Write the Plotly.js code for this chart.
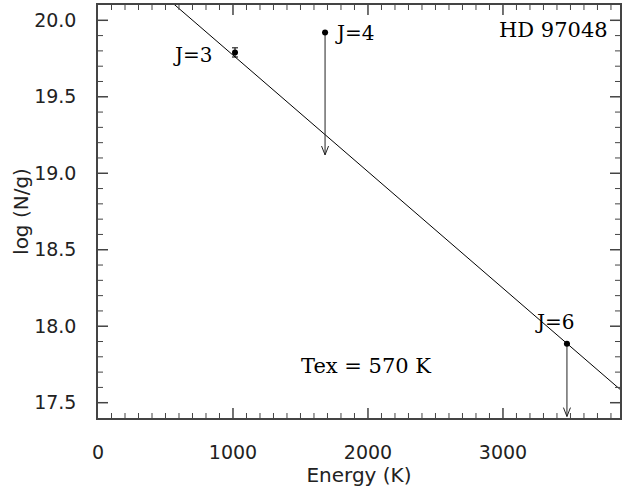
<!DOCTYPE html>
<html>
<head>
<meta charset="utf-8">
<script src="https://cdn.plot.ly/plotly-3.0.1.min.js"></script>
<style>html,body{margin:0;padding:0;background:#fff;}#chart{width:622px;height:487px;}</style>
</head>
<body>
<div id="chart"></div>
<script>
// ---- data ----
const levels = ['J=3', 'J=4', 'J=6'];
const energyK = [1015, 1682, 3474];
const logNg = [19.79, 19.92, 17.885];
const errLogNg = [0.03, 0, 0];
const isUpperLimit = [false, true, true];
const limitArrowTip = [null, 19.12, 17.41];
const texK = 570;
const fitIntercept = 20.534;
const starName = 'HD 97048';

// ---- layout constants ----
const xRange = [0, 3867];
const yRange = [17.40, 20.10];
const xMajorStep = 1000, xMinorStep = 100;
const yMajorStep = 0.5, yMinorStep = 0.1;
const headDx = 26, headDy = 0.058;
const serif = 'DejaVu Serif, Liberation Serif, serif';
const sans = 'DejaVu Sans, Liberation Sans, sans-serif';
const W = 622, H = 487, M = {l: 98, r: 2, t: 5, b: 69};
const plotW = W - M.l - M.r, plotH = H - M.t - M.b;
const majorLen = 10, minorLen = 5, axisColor = '#444';

const traces = [];

// fit line: log(N/g) = a - log10(e) * E / Tex
const fitX = [xRange[0], xRange[1]];
const fitY = fitX.map(e => fitIntercept - Math.LOG10E * e / texK);
traces.push({x: fitX, y: fitY, mode: 'lines', line: {color: '#000', width: 1}, hoverinfo: 'skip'});

// upper-limit stems and open arrowheads
energyK.forEach((e, i) => {
  if (!isUpperLimit[i]) return;
  const tip = limitArrowTip[i];
  traces.push({x: [e, e], y: [logNg[i], tip], mode: 'lines', line: {color: '#222', width: 1}, hoverinfo: 'skip'});
  traces.push({x: [e - headDx, e, e + headDx], y: [tip + headDy, tip, tip + headDy], mode: 'lines', line: {color: '#222', width: 1}, hoverinfo: 'skip'});
});

// measured points
traces.push({
  x: energyK, y: logNg, mode: 'markers',
  marker: {color: '#000', size: 6},
  error_y: {type: 'data', array: errLogNg, color: '#000', thickness: 1, width: 3, visible: true}
});

// inside tick marks on all four sides (axis furniture)
const shapes = [];
const nX = Math.floor(xRange[1] / xMinorStep);
for (let k = 1; k <= nX; k++) {
  const v = k * xMinorStep;
  const isMajor = (v % xMajorStep) === 0;
  const len = (isMajor ? majorLen : minorLen) / plotH;
  const w = isMajor ? 1.5 : 1;
  shapes.push({type: 'line', xref: 'x', yref: 'paper', x0: v, x1: v, y0: 0, y1: len, line: {color: axisColor, width: w}, layer: 'above'});
  shapes.push({type: 'line', xref: 'x', yref: 'paper', x0: v, x1: v, y0: 1, y1: 1 - len, line: {color: axisColor, width: w}, layer: 'above'});
}
const y0k = Math.round(yRange[0] / yMinorStep), y1k = Math.round(yRange[1] / yMinorStep);
for (let k = y0k + 1; k < y1k; k++) {
  const v = k / 10;
  const isMajor = (k % 5) === 0;
  const len = (isMajor ? majorLen : minorLen) / plotW;
  const w = isMajor ? 1.5 : 1;
  shapes.push({type: 'line', xref: 'paper', yref: 'y', x0: 0, x1: len, y0: v, y1: v, line: {color: axisColor, width: w}, layer: 'above'});
  shapes.push({type: 'line', xref: 'paper', yref: 'y', x0: 1, x1: 1 - len, y0: v, y1: v, line: {color: axisColor, width: w}, layer: 'above'});
}

const labelShift = {
  'J=3': {xanchor: 'right', xshift: -20, yshift: -3},
  'J=4': {xanchor: 'left', xshift: 8, yshift: 0},
  'J=6': {xanchor: 'center', xshift: -12, yshift: 22}
};
const annotations = levels.map((lab, i) => Object.assign({
  x: energyK[i], y: logNg[i], xref: 'x', yref: 'y', text: lab, showarrow: false,
  yanchor: 'middle', font: {family: serif, size: 20, color: '#000'}
}, labelShift[lab]));
annotations.push({xref: 'paper', yref: 'paper', x: 0.981, y: 0.939, xanchor: 'right', yanchor: 'middle',
  text: starName, showarrow: false, font: {family: serif, size: 21, color: '#000'}});
annotations.push({xref: 'paper', yref: 'paper', x: 0.513, y: 0.126, xanchor: 'center', yanchor: 'middle',
  text: 'Tex = ' + texK + ' K', showarrow: false, font: {family: serif, size: 21, color: '#000'}});

const layout = {
  width: W, height: H,
  margin: M,
  showlegend: false,
  xaxis: {
    range: xRange, dtick: xMajorStep, tick0: 0,
    gridcolor: 'rgba(0,0,0,0)', zeroline: false,
    showline: true, linecolor: axisColor, linewidth: 1.5, mirror: true,
    ticks: '', ticklabelstandoff: 16,
    tickfont: {family: sans, size: 19, color: '#222'},
    title: {text: 'Energy (K)', font: {family: sans, size: 20, color: '#222'}, standoff: 6}
  },
  yaxis: {
    range: yRange, dtick: yMajorStep, tick0: 17.5, tickformat: '.1f',
    gridcolor: 'rgba(0,0,0,0)', zeroline: false,
    showline: true, linecolor: axisColor, linewidth: 1.5, mirror: true,
    ticks: '', ticklabelstandoff: 16,
    tickfont: {family: sans, size: 19, color: '#222'},
    title: {text: 'log (N/g)', font: {family: sans, size: 20, color: '#222'}, standoff: 0}
  },
  shapes: shapes,
  annotations: annotations
};

Plotly.newPlot('chart', traces, layout, {displayModeBar: false});
</script>
</body>
</html>
